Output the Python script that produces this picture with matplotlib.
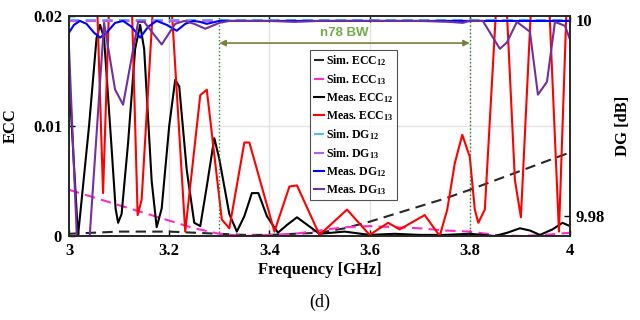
import matplotlib
matplotlib.use("Agg")
import matplotlib.pyplot as plt
from matplotlib.lines import Line2D

plt.rcParams['font.family'] = ['Liberation Serif', 'DejaVu Serif']
plt.rcParams['font.weight'] = 'bold'
plt.rcParams['axes.labelweight'] = 'bold'
plt.rcParams['mathtext.fontset'] = 'custom'
plt.rcParams['mathtext.bf'] = 'Liberation Serif:bold'
plt.rcParams['mathtext.rm'] = 'Liberation Serif:bold'
plt.rcParams['mathtext.default'] = 'bf'

# --- ECC curves (left axis) ---
f_sim_ecc12 = [3.0, 3.05, 3.1, 3.15, 3.2, 3.25, 3.3, 3.35, 3.4, 3.45, 3.5, 3.55, 3.6, 3.7, 3.75, 3.8, 3.9, 4.0]
sim_ecc12 = [0.0002, 0.0003, 0.0004, 0.0004, 0.0004, 0.0003, 0.0002, 0.0001, 0.0001, 0.0002, 0.0003,
             0.0007, 0.0013, 0.0027, 0.0034, 0.0042, 0.0059, 0.0076]

f_sim_ecc13 = [3.0, 3.05, 3.1, 3.15, 3.2, 3.25, 3.3, 3.35, 3.4, 3.45, 3.5, 3.55, 3.6, 3.65, 3.7, 3.75,
               3.8, 3.85, 3.9, 3.95, 4.0]
sim_ecc13 = [0.0042, 0.0035, 0.0028, 0.0021, 0.0014, 0.0007, 0.0002, 0.0000, 0.0001, 0.0002, 0.0005,
             0.0008, 0.0009, 0.0008, 0.0007, 0.0005, 0.0004, 0.0001, 0.0000, 0.0001, 0.0003]

f_meas_ecc12 = [3.0, 3.008, 3.018, 3.04, 3.055, 3.062, 3.07, 3.085, 3.093, 3.098, 3.105, 3.118, 3.132,
                3.142, 3.15, 3.165, 3.175, 3.185, 3.2, 3.212, 3.22, 3.235, 3.25, 3.262, 3.275, 3.29,
                3.3, 3.32, 3.335, 3.35, 3.365, 3.378, 3.395, 3.417, 3.435, 3.455, 3.47, 3.5, 3.55,
                3.6, 3.65, 3.7, 3.75, 3.8, 3.85, 3.875, 3.9, 3.92, 3.94, 3.965, 3.985, 4.0]
meas_ecc12 = [0.0145, 0.008, 0.0, 0.0100, 0.0180, 0.0192, 0.0180, 0.0080, 0.0025, 0.0012, 0.0020,
              0.0085, 0.0170, 0.0192, 0.0170, 0.0050, 0.0008, 0.0025, 0.0100, 0.0142, 0.0136, 0.0060,
              0.0012, 0.0009, 0.0045, 0.0089, 0.0070, 0.0020, 0.0004, 0.0018, 0.0039, 0.0039, 0.0018,
              0.0003, 0.0010, 0.0017, 0.0012, 0.0002, 0.0004, 0.0001, 0.0002, 0.0001, 0.0001, 0.0002,
              0.0000, 0.0003, 0.0007, 0.0005, 0.0001, 0.0006, 0.0012, 0.0009]

f_meas_ecc13 = [3.0, 3.05, 3.068, 3.09, 3.12, 3.137, 3.145, 3.186, 3.232, 3.262, 3.275, 3.305, 3.32,
                3.35, 3.36, 3.41, 3.44, 3.455, 3.5, 3.555, 3.6, 3.637, 3.66, 3.71, 3.74, 3.755, 3.77,
                3.785, 3.8, 3.81, 3.817, 3.83, 3.864, 3.89, 3.902, 3.932, 3.95, 3.978, 4.0]
meas_ecc13 = [0.03, 0.03, 0.0039, 0.035, 0.03, 0.0019, 0.0033, 0.035, 0.0004, 0.0128, 0.0133, 0.0015,
              0.0007, 0.0085, 0.0085, 0.0004, 0.0045, 0.0046, 0.0001, 0.0024, 0.0001, 0.0012, 0.0006,
              0.0019, 0.0000, 0.0024, 0.0066, 0.0092, 0.0072, 0.0024, 0.0012, 0.0024, 0.03, 0.0051,
              0.0017, 0.03, 0.03, 0.0004, 0.03]

# --- DG curves (right axis) ---
f_sim_dg = [3.0, 3.25, 3.5, 3.75, 4.0]
sim_dg12 = [9.99995, 9.99995, 9.99995, 9.99995, 9.99995]
sim_dg13 = [9.99993, 9.99993, 9.99993, 9.99993, 9.99993]

f_meas_dg12 = [3.0, 3.01, 3.022, 3.035, 3.05, 3.062, 3.075, 3.092, 3.108, 3.125, 3.142, 3.158, 3.175,
               3.195, 3.215, 3.232, 3.248, 3.262, 3.275, 3.3, 3.5, 3.75, 4.0]
meas_dg12 = [9.9987, 9.9995, 9.9999, 9.9996, 9.9987, 9.9982, 9.9987, 9.9997, 9.9999, 9.9993, 9.9982,
             9.9993, 9.9999, 9.9995, 9.9989, 9.9996, 9.9999, 9.9998, 9.9996, 9.9999, 9.9999, 9.9999, 9.9999]

f_meas_dg13 = [3.0, 3.018, 3.03, 3.04, 3.07, 3.092, 3.108, 3.138, 3.15, 3.185, 3.212, 3.23, 3.25, 3.272,
               3.3, 3.32, 3.4, 3.45, 3.5, 3.6, 3.7, 3.76, 3.786, 3.8, 3.826, 3.86, 3.874, 3.894, 3.92,
               3.936, 3.954, 3.97, 3.99, 4.0]
meas_dg13 = [9.99716, 9.975, 9.970, 9.977, 9.9997, 9.9929, 9.99137, 9.9998, 9.9998, 9.9975, 9.9996,
             9.9999, 9.9996, 9.9991, 9.9997, 9.9999, 9.9999, 9.9998, 9.9999, 9.9999, 9.9999, 9.9998,
             9.9997, 9.9999, 9.9999, 9.99706, 9.9977, 9.9998, 9.9988, 9.99239, 9.9937, 9.9998, 9.9994,
             9.9980]

x_ticks = [3.0, 3.2, 3.4, 3.6, 3.8, 4.0]
x_tick_labels = ["3", "3.2", "3.4", "3.6", "3.8", "4"]
ecc_ticks = [0.0, 0.01, 0.02]
ecc_tick_labels = ["0", "0.01", "0.02"]
dg_ticks = [9.98, 10.0]
dg_tick_labels = ["9.98", "10"]
band = [3.3, 3.8]

fig = plt.figure(figsize=(6.4, 3.2), dpi=100)
ax = fig.add_axes([69 / 640, 84 / 320, 501 / 640, 220 / 320])
ax2 = ax.twinx()

lw = 1.5
ax.plot(f_sim_ecc12, sim_ecc12, color='#262626', ls=(0, (5, 3)), lw=lw)
ax.plot(f_sim_ecc13, sim_ecc13, color='#ff2bc8', ls=(0, (5, 3)), lw=lw)
ax.plot(f_meas_ecc12, meas_ecc12, color='black', lw=lw)
ax.plot(f_meas_ecc13, meas_ecc13, color='#ff0000', lw=lw)

ax2.plot(f_sim_dg, sim_dg12, color='#4dbeee', ls=(0, (5, 3)), lw=lw)
ax2.plot(f_sim_dg, sim_dg13, color='#b45ef2', ls=(0, (5, 3)), lw=lw)
ax2.plot(f_meas_dg12, meas_dg12, color='#0000ff', lw=lw)
ax2.plot(f_meas_dg13, meas_dg13, color='#7030a0', lw=lw)

ax.set_xlim(3.0, 4.0)
ax.set_ylim(0, 0.02)
ax2.set_ylim(9.978, 10.0004)

ax.set_xticks(x_ticks)
ax.set_xticklabels(x_tick_labels, fontsize=12)
ax.set_yticks(ecc_ticks)
ax.set_yticklabels(ecc_tick_labels, fontsize=12)
ax2.set_yticks(dg_ticks)
ax2.set_yticklabels(dg_tick_labels, fontsize=12)

ax.grid(True, color='#e3e3e3', lw=1.0)
ax.set_axisbelow(True)
ax.tick_params(direction='in', length=4, top=True, pad=5, width=1.0)
ax2.tick_params(direction='in', length=4, pad=4, width=1.0)
for a in (ax, ax2):
    for s in a.spines.values():
        s.set_linewidth(1.2)
        s.set_color('#262626')

ax.set_xlabel("Frequency [GHz]", fontsize=12, fontweight='bold', labelpad=2)
ax.set_ylabel("ECC", fontsize=12, fontweight='bold', labelpad=10)
ax2.set_ylabel("DG [dB]", fontsize=12, fontweight='bold', labelpad=7)

# n78 band markers
for fb in band:
    ax.axvline(fb, color='#2e7d32', ls=':', lw=1.0)
ax.annotate("", xy=(band[0], 0.877), xytext=(band[1], 0.877),
            xycoords=('data', 'axes fraction'),
            arrowprops=dict(arrowstyle='<|-|>', color='#7f7f3a', lw=1.2,
                            mutation_scale=9, shrinkA=0, shrinkB=0))
ax.text(3.55, 0.925, "n78 BW", transform=ax.get_xaxis_transform(), ha='center', va='center',
        fontsize=9.5, fontweight='bold', color='#70ad47', family='Liberation Sans')

handles = [
    Line2D([], [], color='#262626', ls=(0, (5, 3)), lw=lw),
    Line2D([], [], color='#ff2bc8', ls=(0, (5, 3)), lw=lw),
    Line2D([], [], color='black', lw=lw),
    Line2D([], [], color='#ff0000', lw=lw),
    Line2D([], [], color='#4dbeee', ls=(0, (5, 3)), lw=lw),
    Line2D([], [], color='#b45ef2', ls=(0, (5, 3)), lw=lw),
    Line2D([], [], color='#0000ff', lw=lw),
    Line2D([], [], color='#7030a0', lw=lw),
]
labels = [r"Sim. ECC$_{12}$", r"Sim. ECC$_{13}$", r"Meas. ECC$_{12}$", r"Meas. ECC$_{13}$",
          r"Sim. DG$_{12}$", r"Sim. DG$_{13}$", r"Meas. DG$_{12}$", r"Meas. DG$_{13}$"]
leg = ax2.legend(handles, labels, loc='upper left', bbox_to_anchor=(241 / 501, 1 - 34 / 220),
                 fontsize=8.5, handlelength=0.9, handletextpad=0.15, labelspacing=0.35,
                 borderpad=0.3, borderaxespad=0, frameon=True, fancybox=False)
leg.get_frame().set_edgecolor('#262626')
leg.get_frame().set_linewidth(0.8)

fig.text(0.5, 0.055, "(d)", ha='center', va='center', fontsize=13, fontweight='normal')

fig.savefig("out.png", dpi=100)
